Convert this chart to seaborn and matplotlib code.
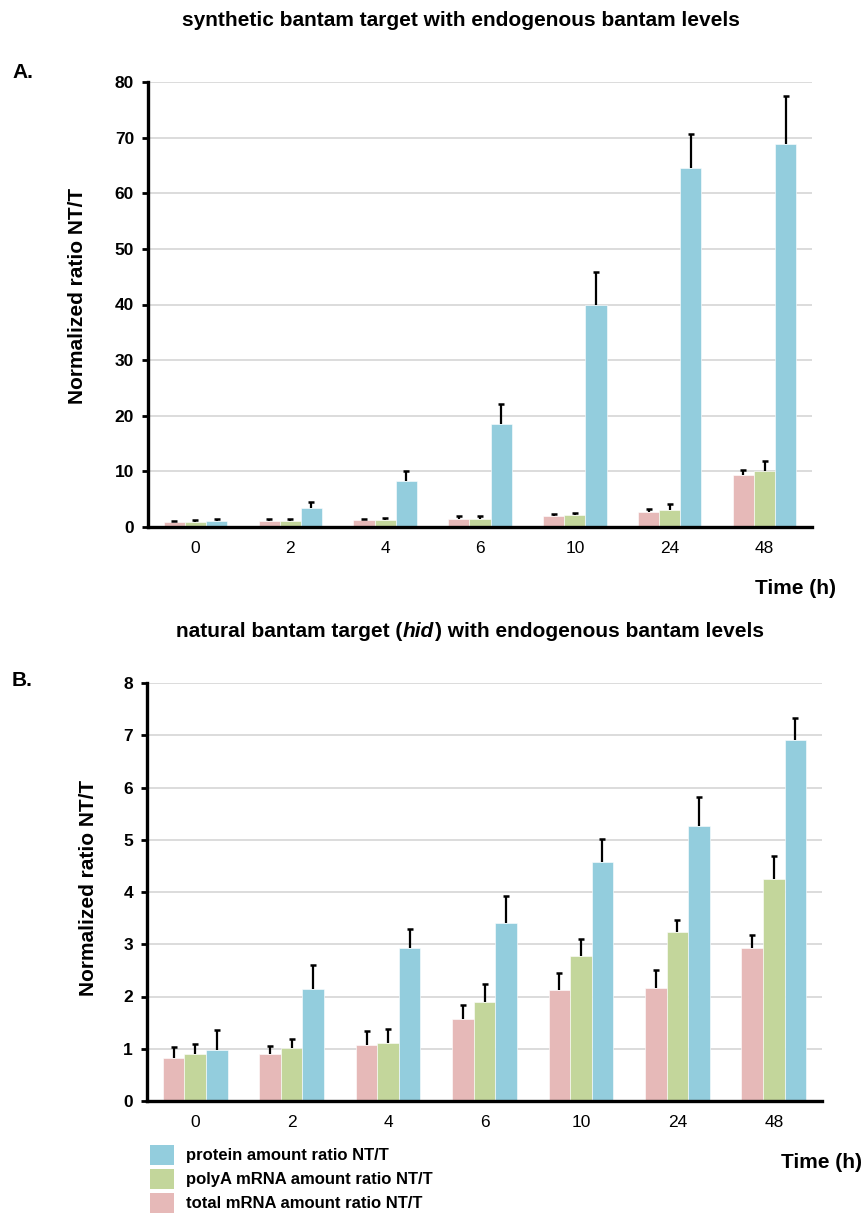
import numpy as np
import pandas as pd
import matplotlib
matplotlib.use("Agg")
import matplotlib.pyplot as plt
import seaborn as sns
from matplotlib.patches import Patch

# ---------------- data ----------------
times = ["0", "2", "4", "6", "10", "24", "48"]
series = ["total mRNA amount ratio NT/T",
          "polyA mRNA amount ratio NT/T",
          "protein amount ratio NT/T"]
legend_labels = ["protein amount ratio NT/T",
                 "polyA mRNA amount ratio NT/T",
                 "total mRNA amount ratio NT/T"]

a_total = [0.85, 1.0, 1.25, 1.5, 1.9, 2.65, 9.4]
a_polyA = [0.9, 1.1, 1.3, 1.5, 2.15, 3.1, 10.1]
a_protein = [1.0, 3.5, 8.25, 18.5, 40.0, 64.6, 68.8]
a_total_err = [0.23, 0.4, 0.25, 0.5, 0.45, 0.65, 0.9]
a_polyA_err = [0.4, 0.3, 0.35, 0.5, 0.35, 1.0, 1.8]
a_protein_err = [0.4, 1.0, 1.8, 3.6, 5.9, 6.0, 8.7]

b_total = [0.83, 0.90, 1.08, 1.56, 2.12, 2.17, 2.92]
b_polyA = [0.90, 1.01, 1.11, 1.89, 2.78, 3.24, 4.25]
b_protein = [0.98, 2.15, 2.92, 3.41, 4.58, 5.27, 6.90]
b_total_err = [0.21, 0.16, 0.26, 0.27, 0.33, 0.33, 0.26]
b_polyA_err = [0.20, 0.18, 0.26, 0.35, 0.32, 0.23, 0.43]
b_protein_err = [0.37, 0.45, 0.37, 0.52, 0.44, 0.54, 0.43]

a_yticks = [0, 10, 20, 30, 40, 50, 60, 70, 80]
b_yticks = [0, 1, 2, 3, 4, 5, 6, 7, 8]

colors = {"total mRNA amount ratio NT/T": "#E6B9B8",
          "polyA mRNA amount ratio NT/T": "#C3D69B",
          "protein amount ratio NT/T": "#93CDDD"}


def long_df(total, polyA, protein):
    rows = []
    for s, vals in zip(series, [total, polyA, protein]):
        for t, v in zip(times, vals):
            rows.append({"time": t, "series": s, "value": v})
    return pd.DataFrame(rows)


sns.set_theme(style="white")
plt.rcParams['font.family'] = ['Liberation Sans', 'DejaVu Sans']
plt.rcParams['text.color'] = 'black'
plt.rcParams['axes.labelcolor'] = 'black'
plt.rcParams['xtick.color'] = 'black'
plt.rcParams['ytick.color'] = 'black'

W, H = 867, 1226
fig = plt.figure(figsize=(W / 100, H / 100), dpi=100)


def make_panel(rect, total, polyA, protein, errs, yticks, ymax):
    ax = fig.add_axes(rect)
    df = long_df(total, polyA, protein)
    sns.barplot(data=df, x="time", y="value", hue="series", order=times,
                hue_order=series, palette=colors, errorbar=None, width=0.67,
                saturation=1, edgecolor="white", linewidth=0.4, ax=ax,
                legend=False)
    # upper error bars only
    for cont, err in zip(ax.containers, errs):
        bars = sorted(cont.patches, key=lambda p: p.get_x())
        xs = np.array([b.get_x() + b.get_width() / 2 for b in bars])
        ys = np.array([b.get_height() for b in bars])
        err = np.asarray(err)
        ax.errorbar(xs, ys, yerr=[np.zeros(len(err)), err], fmt="none",
                    ecolor="black", elinewidth=1.6, capsize=0, zorder=3)
        ax.plot(xs, ys + err, linestyle="none", marker="_", markersize=5,
                markeredgewidth=1.8, color="black", zorder=3)
    ax.set_xlim(-0.5, len(times) - 0.5)
    ax.set_ylim(0, ymax)
    ax.set_yticks(yticks)
    ax.set_yticklabels([str(v) for v in yticks], fontsize=12.5,
                       fontweight="bold")
    # x ticks at category boundaries, labels at centres
    ax.set_xticks(np.arange(-0.5, len(times), 1.0))
    ax.set_xticklabels([])
    ax.set_xticks(np.arange(len(times)), minor=True)
    ax.set_xticklabels(times, minor=True, fontsize=12.5)
    ax.tick_params(axis="x", which="major", direction="out", length=5,
                   width=2, color="black")
    ax.tick_params(axis="x", which="minor", length=0, pad=10)
    ax.tick_params(axis="y", direction="out", length=4, width=2,
                   color="black", pad=6, left=True)
    ax.yaxis.grid(True, color="#D9D9D9", linewidth=1.3)
    ax.set_axisbelow(True)
    for s in ["top", "right"]:
        ax.spines[s].set_visible(False)
    for s in ["left", "bottom"]:
        ax.spines[s].set_color("black")
        ax.spines[s].set_linewidth(2.4)
    ax.set_xlabel("")
    ax.set_ylabel("Normalized ratio NT/T", fontsize=15, fontweight="bold")
    return ax


axA = make_panel([148 / W, 1 - 527 / H, (812 - 148) / W, (527 - 82) / H],
                 a_total, a_polyA, a_protein,
                 [a_total_err, a_polyA_err, a_protein_err], a_yticks, 80)
axA.yaxis.set_label_coords(-0.092, 0.52)

axB = make_panel([147 / W, 1 - 1101 / H, (822 - 147) / W, (1101 - 683) / H],
                 b_total, b_polyA, b_protein,
                 [b_total_err, b_polyA_err, b_protein_err], b_yticks, 8)
axB.yaxis.set_label_coords(-0.073, 0.51)

# titles
fig.text(461 / W, 1 - 20 / H,
         "synthetic bantam target with endogenous bantam levels",
         ha="center", va="center", fontsize=15, fontweight="bold")

t1 = fig.text(187 / W, 1 - 637 / H, "natural bantam target (",
              ha="left", va="baseline", fontsize=15, fontweight="bold")
t2 = fig.text(0, 0, "hid", fontsize=15, fontweight="bold", style="italic",
              ha="left", va="baseline")
t3 = fig.text(0, 0, ") with endogenous bantam levels", fontsize=15,
              fontweight="bold", ha="left", va="baseline")
fig.canvas.draw()
r = fig.canvas.get_renderer()
inv = fig.transFigure.inverted()
base_y = t1.get_position()[1]
bb1 = t1.get_window_extent(r)
t2.set_position((inv.transform((bb1.x1, 0))[0], base_y))
fig.canvas.draw()
bb2 = t2.get_window_extent(r)
t3.set_position((inv.transform((bb2.x1 + 1, 0))[0], base_y))
fig.canvas.draw()
left = t1.get_window_extent(r).x0
right = t3.get_window_extent(r).x1
shift = 470 - (left + right) / 2
for t in (t1, t2, t3):
    px = fig.transFigure.transform(t.get_position())
    t.set_position(inv.transform((px[0] + shift, px[1])))

# panel letters
fig.text(12 / W, 1 - 73 / H, "A.", ha="left", va="center", fontsize=15,
         fontweight="bold")
fig.text(12 / W, 1 - 681 / H, "B.", ha="left", va="center", fontsize=15,
         fontweight="bold")

# Time (h)
fig.text(836 / W, 1 - 589 / H, "Time (h)", ha="right", va="center",
         fontsize=15, fontweight="bold")
fig.text(862 / W, 1 - 1163 / H, "Time (h)", ha="right", va="center",
         fontsize=15, fontweight="bold")

# legend
handles = [Patch(facecolor=colors[s], edgecolor="none") for s in legend_labels]
fig.legend(handles, legend_labels, loc="upper left",
           bbox_to_anchor=(150 / W, 1 - 1145 / H), frameon=False,
           prop={"weight": "bold", "size": 12}, handlelength=1.45,
           handleheight=1.45, handletextpad=0.7, labelspacing=0.25,
           borderpad=0, borderaxespad=0)

fig.savefig("out.png", dpi=100)
